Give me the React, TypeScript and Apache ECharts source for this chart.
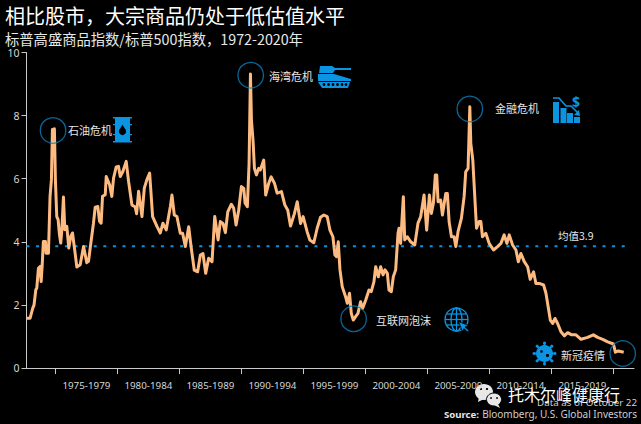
import React, { useEffect, useRef } from "react";
import * as echarts from "echarts";

const FONT = '"Noto Sans CJK SC", "Noto Sans", sans-serif';
const LATIN = '"Noto Sans", "Open Sans", sans-serif';

const years = [
  1972.67, 1972.74, 1972.96, 1973.17, 1973.28, 1973.42, 1973.5, 1973.63, 1973.77, 1973.85, 1973.93, 1974.03, 1974.2, 1974.25, 1974.44, 1974.57, 1974.68, 1974.76, 1974.92,
  1975.0, 1975.11, 1975.22, 1975.33, 1975.43, 1975.52, 1975.65, 1975.76, 1975.92, 1976.08, 1976.24, 1976.38, 1976.59, 1976.73, 1977.0, 1977.27, 1977.53, 1977.67, 1977.86,
  1978.07, 1978.21, 1978.42, 1978.56, 1978.69, 1978.8, 1979.02, 1979.1, 1979.37, 1979.55, 1979.69, 1979.9, 1980.09, 1980.23, 1980.44, 1980.71, 1980.9, 1981.17, 1981.44,
  1981.55, 1981.71, 1981.98, 1982.17, 1982.38, 1982.6, 1982.84, 1983.19, 1983.46, 1983.67, 1983.94, 1984.27,
  1984.4, 1984.59, 1984.8, 1985.07, 1985.26, 1985.48, 1985.75, 1985.94, 1986.2, 1986.47, 1986.69, 1986.9, 1987.12, 1987.36, 1987.63, 1987.85, 1988.12, 1988.3, 1988.52, 1988.71,
  1988.9, 1989.19, 1989.38, 1989.57, 1989.78, 1990.0, 1990.19, 1990.3, 1990.48, 1990.62, 1990.73, 1990.81, 1990.94, 1991.05, 1991.21, 1991.4, 1991.53, 1991.8, 1991.96, 1992.2,
  1992.4, 1992.67, 1992.88, 1993.23, 1993.5, 1993.74, 1993.96, 1994.28, 1994.5, 1994.77, 1994.98, 1995.3, 1995.52, 1995.84, 1996.11, 1996.38, 1996.65, 1996.92, 1997.14, 1997.38,
  1997.54, 1997.67, 1997.81, 1997.95, 1998.13, 1998.4, 1998.54, 1998.72, 1998.86, 1999.02, 1999.21, 1999.4, 1999.61, 1999.77, 2000.02, 2000.29, 2000.47, 2000.69, 2000.83,
  2001.04, 2001.23, 2001.42, 2001.58, 2001.77, 2001.9, 2002.09, 2002.25, 2002.44, 2002.63, 2002.71, 2002.84, 2003.06, 2003.17, 2003.38, 2003.65, 2003.98, 2004.24, 2004.46,
  2004.73, 2004.94, 2005.16, 2005.32, 2005.48, 2005.64, 2005.75, 2005.86, 2006.07, 2006.21, 2006.48, 2006.61, 2006.75, 2006.94, 2007.15, 2007.29, 2007.47, 2007.74, 2007.96,
  2008.09, 2008.28, 2008.42, 2008.5, 2008.66, 2008.82, 2008.96, 2009.17, 2009.31, 2009.44, 2009.71, 2009.98, 2010.33, 2010.66, 2010.93, 2011.19, 2011.41, 2011.6, 2011.87,
  2012.14, 2012.33, 2012.54, 2012.81, 2013.08, 2013.29, 2013.56, 2013.75, 2014.02, 2014.37, 2014.56, 2014.78, 2014.91, 2015.1, 2015.29, 2015.5, 2015.77, 2016.04, 2016.31,
  2016.63, 2016.98, 2017.39, 2017.92, 2018.38, 2018.73, 2019.14, 2019.54, 2020.0, 2020.16, 2020.4, 2020.83,
];
const ratio = [
  1.58, 1.58, 1.58, 1.89, 2.0, 2.48, 2.53, 3.16, 3.22, 2.74, 3.22, 4.01, 4.01, 3.64, 3.64, 5.44, 5.97, 7.56, 7.58,
  5.97, 4.8, 4.7, 4.22, 3.96, 4.38, 5.42, 4.38, 4.49, 3.8, 4.17, 4.28, 3.64, 3.2, 3.27, 3.85, 3.34, 3.38, 3.96,
  4.59, 5.1, 5.12, 4.65, 4.59, 5.44, 5.49, 6.07, 5.81, 5.44, 6.02, 6.37, 6.39, 6.07, 6.23, 6.55, 5.92, 5.17, 5.1,
  4.89, 5.6, 4.8, 5.7, 5.97, 6.18, 4.8, 4.49, 4.28, 4.59, 4.38, 5.12,
  5.48, 4.85, 4.8, 4.27, 4.27, 3.85, 4.48, 3.85, 3.1, 3.05, 3.58, 3.63, 3.0, 3.48, 3.37, 4.8, 4.06, 4.64, 4.58, 4.29,
  4.95, 5.19, 5.06, 4.53, 5.0, 5.75, 5.69, 5.22, 5.11, 6.49, 9.32, 7.86, 7.2, 6.33, 6.12, 6.33, 6.28, 6.59, 5.48, 5.85,
  6.06, 5.85, 5.54, 5.59, 5.17, 5.0, 4.5, 4.9, 5.27, 4.58, 4.8, 4.32, 4.06, 3.97, 4.43, 4.78, 4.85, 4.8, 4.37, 4.16,
  3.58, 3.53, 4.0, 3.11, 2.58, 2.26, 2.05, 2.37, 1.73, 1.52, 1.63, 1.73, 2.1, 1.89, 2.15, 2.47, 2.42, 2.74, 3.21,
  2.89, 3.21, 2.95, 3.11, 3.0, 2.47, 2.42, 2.89, 3.11, 4.27, 4.43, 3.95, 5.43, 4.06, 4.16, 4.0, 3.9, 4.59, 4.8,
  5.48, 4.37, 5.48, 4.9, 5.22, 6.12, 6.12, 5.27, 5.32, 4.85, 5.53, 5.53, 4.64, 4.16, 4.16, 3.85, 4.32, 4.74, 5.43,
  6.22, 6.33, 8.28, 7.12, 6.59, 5.43, 4.43, 4.64, 4.64, 4.16, 4.27, 3.95, 3.74, 3.85, 3.95, 4.22, 3.95, 4.22, 3.9,
  3.74, 3.37, 3.63, 3.37, 3.21, 2.81, 3.05, 2.68, 2.68, 2.63, 2.37, 1.84, 1.52, 1.41, 1.57, 1.41, 1.15, 1.02, 1.12,
  1.05, 1.05, 0.91, 0.97, 1.05, 0.97, 0.91, 0.83, 0.76, 0.5, 0.54, 0.5,
];

const meanYears = [1972.67, 2021.3];
const meanValue = [3.86, 3.86];
const circleYears = [1974.81, 1990.75, 2008.42, 1999.05, 2020.75];
const circleValues = [7.53, 9.28, 8.21, 1.56, 0.46];
const tickYears = [1975, 1980, 1985, 1990, 1995, 2000, 2005, 2010, 2015, 2020];
const periodCentres = [1977.5, 1982.5, 1987.5, 1992.5, 1997.5, 2002.5, 2007.5, 2012.5, 2017.5];
const periodLabels = ["1975-1979", "1980-1984", "1985-1989", "1990-1994", "1995-1999", "2000-2004", "2005-2009", "2010-2014", "2015-2019"];

const BLUE = "#0a94e2";

function text(t: string, x: number, y: number, size: number, fill = "#e6e6e6", extra: any = {}) {
  return { type: "text", x, y, z: 20, style: { text: t, fontSize: size, fontFamily: FONT, fill, textVerticalAlign: "middle", ...extra } };
}

function barrel() {
  return {
    type: "group", x: 113, y: 117, z: 10,
    children: [
      { type: "rect", shape: { x: 2, y: 1, width: 15, height: 24 }, style: { fill: BLUE } },
      { type: "rect", shape: { x: 0, y: 0, width: 19, height: 1.5 }, style: { fill: BLUE } },
      { type: "rect", shape: { x: 0, y: 24, width: 19, height: 1.5 }, style: { fill: BLUE } },
      { type: "rect", shape: { x: 0, y: 7, width: 19, height: 1.2 }, style: { fill: BLUE } },
      { type: "rect", shape: { x: 0, y: 17, width: 19, height: 1.2 }, style: { fill: BLUE } },
      { type: "circle", shape: { cx: 9.5, cy: 14.5, r: 3.6 }, style: { fill: "#000" } },
      { type: "polygon", shape: { points: [[9.5, 7.5], [6.4, 13], [12.6, 13]] }, style: { fill: "#000" } },
    ],
  };
}

function tank() {
  return {
    type: "group", x: 318, y: 65, z: 10,
    children: [
      { type: "polygon", shape: { points: [[2, 1], [14, 1], [17, 3], [33, 3], [33, 5], [17, 5], [15, 8], [1, 8]] }, style: { fill: BLUE } },
      { type: "polygon", shape: { points: [[0, 9], [16, 9], [33, 14], [33, 16], [0, 16]] }, style: { fill: BLUE } },
      { type: "polygon", shape: { points: [[0, 17], [32, 17], [30, 23], [4, 23]] }, style: { fill: BLUE } },
      ...[6, 10.5, 15, 19.5, 24, 28].map((cx) => ({ type: "circle", shape: { cx, cy: 19.5, r: 1.4 }, style: { fill: "#000" } })),
    ],
  };
}

function crashBars() {
  return {
    type: "group", x: 553, y: 94, z: 10,
    children: [
      { type: "rect", shape: { x: 0, y: 8, width: 6, height: 21 }, style: { fill: BLUE } },
      { type: "rect", shape: { x: 7.5, y: 14, width: 6, height: 15 }, style: { fill: BLUE } },
      { type: "rect", shape: { x: 14, y: 19, width: 6, height: 10 }, style: { fill: BLUE } },
      { type: "rect", shape: { x: 21, y: 23, width: 6, height: 6 }, style: { fill: BLUE } },
      { type: "polyline", shape: { points: [[0, 4], [6, 4], [13, 12], [18, 12], [26, 20]] }, style: { stroke: BLUE, lineWidth: 1.6, fill: "none" } },
      { type: "polygon", shape: { points: [[27, 22], [21, 21], [26, 16]] }, style: { fill: BLUE } },
      { type: "text", x: 19, y: 0, style: { text: "$", fontSize: 14, fontWeight: "bold", fontFamily: LATIN, fill: BLUE, textVerticalAlign: "top" } },
    ],
  };
}

function globe() {
  const s = { stroke: BLUE, lineWidth: 1.3, fill: "none" };
  return {
    type: "group", x: 456.5, y: 319.5, z: 10,
    children: [
      { type: "circle", shape: { cx: 0, cy: 0, r: 11.5 }, style: s },
      { type: "ellipse", shape: { cx: 0, cy: 0, rx: 5.5, ry: 11.5 }, style: s },
      { type: "line", shape: { x1: 0, y1: -11.5, x2: 0, y2: 11.5 }, style: s },
      { type: "line", shape: { x1: -11.5, y1: 0, x2: 11.5, y2: 0 }, style: s },
      { type: "line", shape: { x1: -10, y1: -5.5, x2: 10, y2: -5.5 }, style: s },
      { type: "line", shape: { x1: -10, y1: 5.5, x2: 10, y2: 5.5 }, style: s },
      { type: "polygon", shape: { points: [[2, 2], [12, 6], [8.5, 7.5], [12.5, 11], [11, 12.5], [7.5, 9], [6, 12]] }, style: { fill: BLUE, stroke: "#000", lineWidth: 0.8 } },
    ],
  };
}

function gear() {
  const angles = [0, 45, 90, 135, 180, 225, 270, 315];
  return {
    type: "group", x: 544.5, y: 353.5, z: 10,
    children: [
      { type: "circle", shape: { cx: 0, cy: 0, r: 8.5 }, style: { fill: BLUE } },
      ...angles.map((a) => ({
        type: "group", rotation: (a * Math.PI) / 180,
        children: [
          { type: "rect", shape: { x: -1, y: -11, width: 2, height: 4 }, style: { fill: BLUE } },
          { type: "circle", shape: { cx: 0, cy: -10.5, r: 1.5 }, style: { fill: BLUE } },
        ],
      })),
      { type: "circle", shape: { cx: -3, cy: -2, r: 1.3 }, style: { fill: "#000" } },
      { type: "circle", shape: { cx: 3, cy: 2, r: 1.6 }, style: { fill: "#000" } },
    ],
  };
}

function wechat() {
  return {
    type: "group", x: 476, y: 383, z: 30,
    children: [
      { type: "ellipse", shape: { cx: 8, cy: 9, rx: 9, ry: 8 }, style: { fill: "#e8e8e8" } },
      { type: "polygon", shape: { points: [[3, 14], [2, 19], [8, 16]] }, style: { fill: "#e8e8e8" } },
      { type: "ellipse", shape: { cx: 18, cy: 16.5, rx: 7.5, ry: 6.5 }, style: { fill: "#e8e8e8", stroke: "#000", lineWidth: 1 } },
      { type: "polygon", shape: { points: [[22, 21], [24, 25], [18, 22]] }, style: { fill: "#e8e8e8" } },
      { type: "circle", shape: { cx: 5, cy: 6, r: 1.1 }, style: { fill: "#000" } },
      { type: "circle", shape: { cx: 11, cy: 6, r: 1.1 }, style: { fill: "#000" } },
      { type: "circle", shape: { cx: 15, cy: 15, r: 0.9 }, style: { fill: "#000" } },
      { type: "circle", shape: { cx: 21, cy: 15, r: 0.9 }, style: { fill: "#000" } },
    ],
  };
}

export default function App() {
  const ref = useRef<HTMLDivElement>(null);
  useEffect(() => {
    document.body.style.margin = "0";
    document.body.style.background = "#000";
    const chart = echarts.init(ref.current!, null, { renderer: "svg" });
    chart.setOption({
      animation: false,
      backgroundColor: "#000000",
      grid: { left: 26.5, top: 52.5, right: 7, bottom: 56 },
      xAxis: {
        type: "value",
        min: 1972.67,
        max: 2021.66,
        splitLine: { show: false },
        axisLine: { show: true, onZero: false, lineStyle: { color: "#c9c9c9", width: 1 } },
        axisTick: { show: true, length: 6, lineStyle: { color: "#c9c9c9" }, customValues: tickYears },
        axisLabel: {
          show: true, color: "#d6d6d6", fontSize: 9.8, fontFamily: LATIN, margin: 12,
          customValues: periodCentres,
          formatter: (v: number) => periodLabels[periodCentres.indexOf(v)] ?? "",
        },
      },
      yAxis: {
        type: "value",
        min: 0,
        max: 10,
        interval: 2,
        splitLine: { show: false },
        axisLine: { show: true, lineStyle: { color: "#c9c9c9", width: 1 } },
        axisTick: { show: true, length: 5, inside: false, lineStyle: { color: "#c9c9c9" } },
        axisLabel: { color: "#d6d6d6", fontSize: 10.5, fontFamily: LATIN, margin: 7 },
      },
      series: [
        {
          type: "line", z: 2, symbol: "none", silent: true,
          data: meanYears.map((y, i) => [y, meanValue[i]]),
          lineStyle: { color: BLUE, width: 2, type: [3, 6.6] },
        },
        {
          type: "line", z: 3, symbol: "none", silent: true,
          data: years.map((y, i) => [y, ratio[i]]),
          lineStyle: { color: "#fdbb82", width: 3, join: "round" },
        },
        {
          type: "scatter", z: 4, symbol: "circle", symbolSize: 25.5, silent: true,
          data: circleYears.map((y, i) => [y, circleValues[i]]),
          itemStyle: { color: "rgba(0,0,0,0)", borderColor: "#0b7dbd", borderWidth: 1.3 },
        },
      ],
      graphic: [
        text("相比股市，大宗商品仍处于低估值水平", 5, 15, 20, "#ffffff"),
        text("标普高盛商品指数/标普500指数，1972-2020年", 5, 38, 14.3, "#e8e8e8"),
        text("石油危机", 68, 130, 11),
        text("海湾危机", 269, 76, 11),
        text("金融危机", 495, 108, 11),
        text("互联网泡沫", 376, 320, 11),
        text("新冠疫情", 561, 355, 11),
        text("均值3.9", 558, 235, 10.5),
        barrel(), tank(), crashBars(), globe(), gear(),
        { type: "text", x: 637, y: 402, z: 20, style: { text: "Data as of October 22", fontSize: 9.8, fontFamily: LATIN, fill: "#cfcfcf", textAlign: "right", textVerticalAlign: "middle" } },
        { type: "text", x: 637, y: 414, z: 20, style: { text: "Bloomberg, U.S. Global Investors", fontSize: 10, fontFamily: LATIN, fill: "#cfcfcf", textAlign: "right", textVerticalAlign: "middle" } },
        { type: "text", x: 479, y: 414, z: 20, style: { text: "Source:", fontSize: 9.6, fontWeight: "bold", fontFamily: LATIN, fill: "#e6e6e6", textAlign: "right", textVerticalAlign: "middle" } },
        wechat(),
        text("托木尔峰健康行", 508, 394, 16, "#ffffff"),
      ],
    });
    return () => chart.dispose();
  }, []);
  return <div ref={ref} style={{ width: 641, height: 424 }} />;
}
